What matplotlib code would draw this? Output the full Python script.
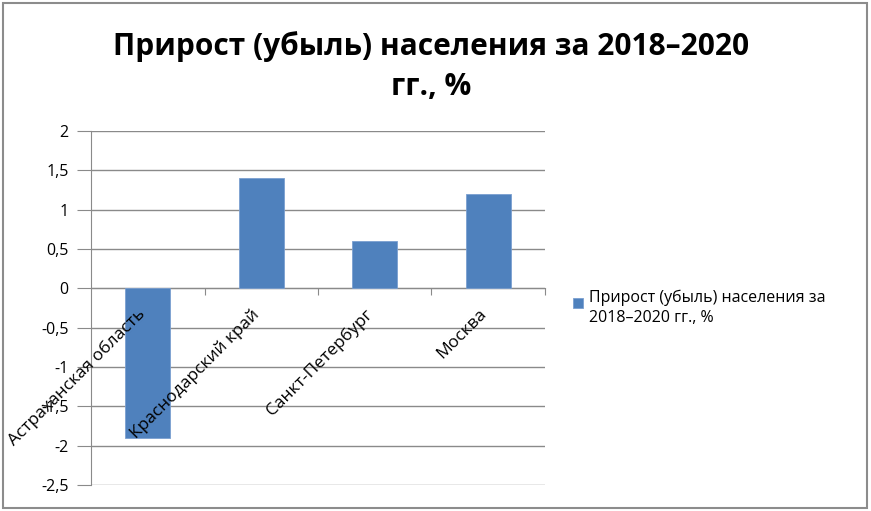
import matplotlib.pyplot as plt
from matplotlib.patches import Rectangle
import numpy as np

# Data
regions = ['Астраханская область', 'Краснодарский край', 'Санкт-Петербург', 'Москва']
growth = [-1.9, 1.4, 0.6, 1.2]
yticks = [2, 1.5, 1, 0.5, 0, -0.5, -1, -1.5, -2, -2.5]
series_name = 'Прирост (убыль) населения за\n2018–2020 гг., %'
title = 'Прирост (убыль) населения за 2018–2020\nгг., %'

plt.rcParams['font.family'] = ['Open Sans', 'DejaVu Sans']

fig = plt.figure(figsize=(8.71, 5.11), dpi=100)
ax = fig.add_axes([0.1045, 0.0509, 0.5212, 0.6927])

# outer chart frame
fig.patches.append(Rectangle((3 / 871, 3 / 511), 864 / 871, 505 / 511,
                             transform=fig.transFigure, fill=False,
                             edgecolor='#8c8c8c', linewidth=1.5))

x = np.arange(len(regions))
ax.bar(x, growth, width=0.4, color='#4F81BD', edgecolor='#7a9fd0',
       linewidth=0.6, zorder=3)

ax.set_xlim(-0.5, 3.5)
ax.set_ylim(-2.5, 2)
ax.set_yticks(yticks)
ax.set_yticklabels([('%g' % v).replace('.', ',') for v in yticks], fontsize=11.5)
ax.yaxis.grid(True, color='#8a8a8a', linewidth=1)
ax.tick_params(axis='y', length=10, color='#8a8a8a', pad=6)

# category axis sits on zero
ax.spines['bottom'].set_position(('data', 0))
ax.spines['bottom'].set_color('#8a8a8a')
ax.spines['left'].set_color('#8a8a8a')
ax.spines['top'].set_visible(False)
ax.spines['right'].set_visible(False)
ax.set_xticks([0.5, 1.5, 2.5, 3.5])
ax.set_xticklabels([])
ax.tick_params(axis='x', length=5, color='#8a8a8a', direction='out')

for xi, name in zip(x, regions):
    ax.text(xi - 0.04, -0.3, name, rotation=45, ha='right', va='center',
            rotation_mode='anchor', fontsize=12.5, zorder=4)

fig.text(0.495, 0.94, title, ha='center', va='top', fontsize=21.5,
         fontweight='bold', linespacing=1.45)

# legend: square sits next to the first line of the label
fig.patches.append(Rectangle((573 / 871, 1 - 308 / 511), 10 / 871, 10 / 511,
                             transform=fig.transFigure, facecolor='#4F81BD',
                             edgecolor='#7a9fd0', linewidth=0.6))
fig.text(589 / 871, 1 - 290 / 511, series_name, ha='left', va='top',
         fontsize=11.5, linespacing=1.3)

fig.savefig('out.png', dpi=100)
